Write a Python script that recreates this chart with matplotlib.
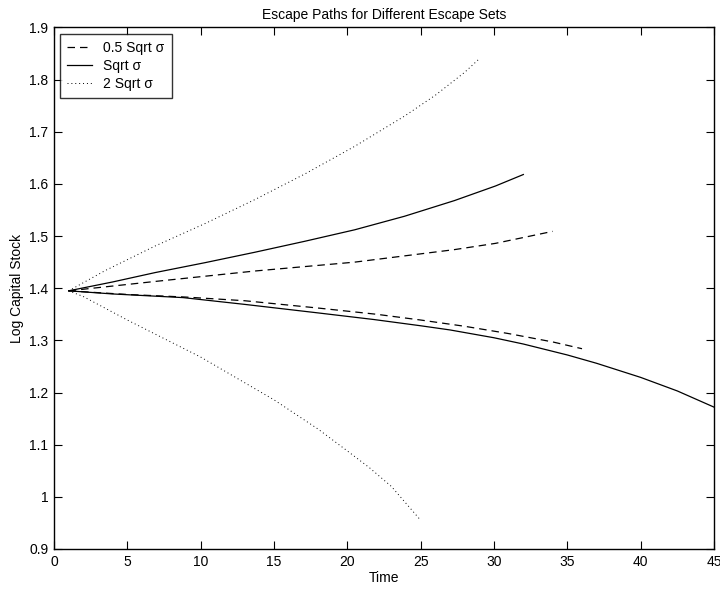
import numpy as np
import matplotlib
matplotlib.use("Agg")
import matplotlib.pyplot as plt
from matplotlib.ticker import FuncFormatter

plt.rcParams['font.family'] = ['Liberation Sans', 'DejaVu Sans']

# 0.5 Sqrt sigma (dashed)
t_half_up = [1, 6.9, 13.7, 20.5, 27.3, 30.1, 34]
v_half_up = [1.395, 1.413, 1.433, 1.450, 1.474, 1.486, 1.509]
t_half_dn = [1, 5, 9, 13, 18, 22, 25, 28, 31, 34, 36]
v_half_dn = [1.395, 1.388, 1.383, 1.376, 1.362, 1.350, 1.339, 1.327, 1.313, 1.297, 1.284]

# Sqrt sigma (solid)
t_one_up = [1, 4, 6.9, 10.3, 13.7, 17.1, 20.5, 23.9, 27.3, 30.1, 32]
v_one_up = [1.395, 1.412, 1.430, 1.449, 1.469, 1.490, 1.512, 1.538, 1.568, 1.596, 1.618]
t_one_dn = [1, 4, 8.8, 13, 17.9, 21.8, 25, 27, 30, 32, 35, 37, 40, 42.5, 45]
v_one_dn = [1.395, 1.389, 1.382, 1.369, 1.353, 1.340, 1.328, 1.320, 1.305, 1.293, 1.272, 1.256, 1.229, 1.203, 1.172]

# 2 Sqrt sigma (dotted)
t_two_up = [1, 3.5, 6.9, 10.3, 13.7, 17.1, 20.5, 23.9, 26, 28, 29]
v_two_up = [1.395, 1.434, 1.481, 1.524, 1.570, 1.619, 1.672, 1.730, 1.770, 1.814, 1.840]
t_two_dn = [1, 2, 5, 10, 15, 18, 20, 21.5, 23, 25]
v_two_dn = [1.395, 1.384, 1.339, 1.268, 1.186, 1.130, 1.088, 1.056, 1.020, 0.955]

x_ticks = np.arange(0, 46, 5)
y_ticks = np.round(np.arange(0.9, 1.91, 0.1), 1)

fig = plt.figure(figsize=(7.2, 5.9), dpi=100)
ax = fig.add_axes([0.075, 0.0695, 0.9167, 0.884])

dash = (0, (6, 4))
dots = (0, (1, 3))
ax.plot(t_half_up, v_half_up, color='k', lw=0.9, linestyle=dash, label='0.5 Sqrt σ')
ax.plot(t_one_up, v_one_up, color='k', lw=0.9, label='Sqrt σ')
ax.plot(t_two_up, v_two_up, color='k', lw=0.7, linestyle=dots, label='2 Sqrt σ')
ax.plot(t_half_dn, v_half_dn, color='k', lw=0.9, linestyle=dash)
ax.plot(t_one_dn, v_one_dn, color='k', lw=0.9)
ax.plot(t_two_dn, v_two_dn, color='k', lw=0.7, linestyle=dots)

ax.set_xlim(0, 45)
ax.set_ylim(0.9, 1.9)
ax.set_xticks(x_ticks)
ax.set_yticks(y_ticks)
ax.yaxis.set_major_formatter(FuncFormatter(lambda v, p: ('%g' % round(v, 1))))
ax.tick_params(direction='in', length=6, width=0.8, top=True, right=True,
               labelsize=10, pad=4)
for s in ax.spines.values():
    s.set_linewidth(1.0)

ax.set_title('Escape Paths for Different Escape Sets', fontsize=10, pad=6)
ax.set_xlabel('Time', fontsize=10, labelpad=2)
ax.set_ylabel('Log Capital Stock', fontsize=10, labelpad=4)

leg = ax.legend(loc='upper left', fontsize=10, frameon=True, fancybox=False,
                edgecolor='k', handlelength=1.75, handletextpad=0.85,
                borderaxespad=0.45, labelspacing=0.3, borderpad=0.5)
leg.get_frame().set_linewidth(1.0)

fig.savefig('out.png', dpi=100)
